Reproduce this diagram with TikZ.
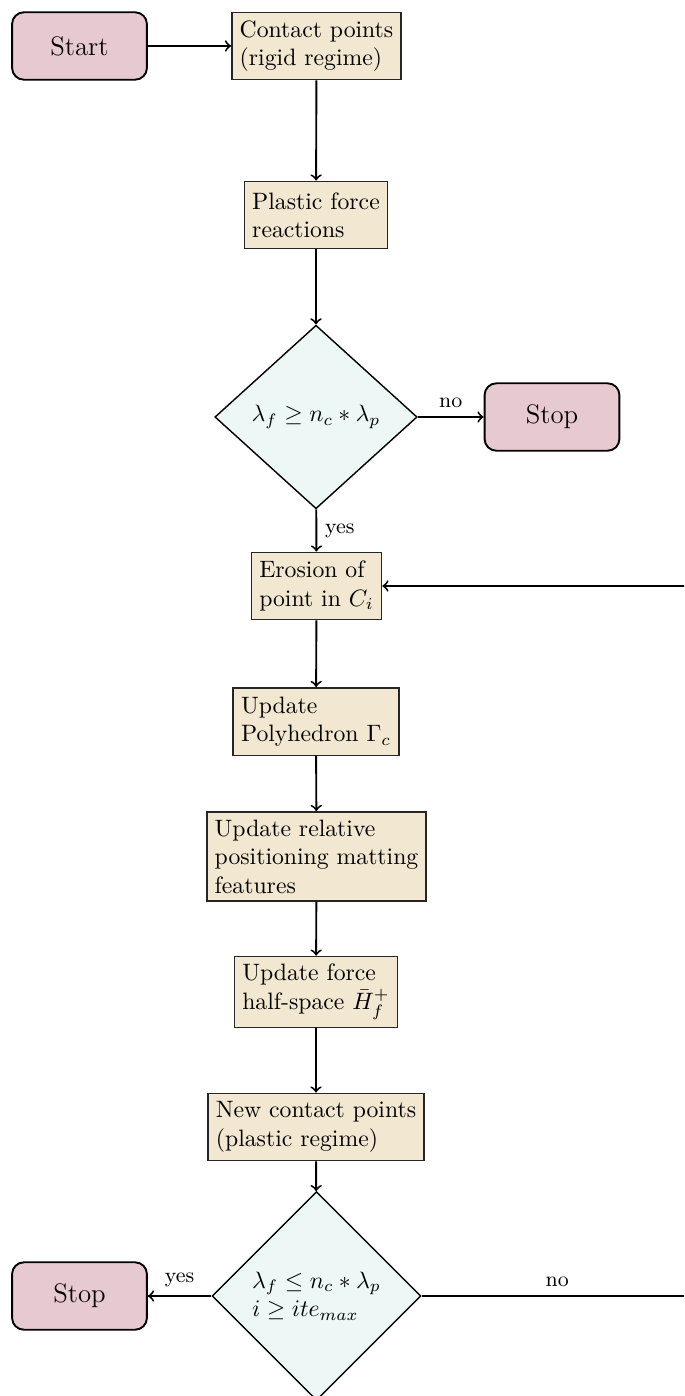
\documentclass[tikz,border=0pt]{standalone}
\usetikzlibrary{shapes.geometric,arrows}
\definecolor{termfill}{RGB}{231,201,209}
\definecolor{procfill}{RGB}{242,231,208}
\definecolor{decfill}{RGB}{237,247,245}
\begin{document}
\begin{tikzpicture}[
  x=0.42194pt, y=-0.42194pt,
  startstop/.style={rectangle, rounded corners=5pt, minimum width=2cm, minimum height=1cm,
    draw=black, thick, fill=termfill, font=\fontsize{11.3}{13.6}\selectfont},
  process/.style={rectangle, minimum height=1cm, align=left,
    draw=black!85, semithick, fill=procfill},
  decision/.style={diamond, minimum width=3cm, minimum height=1cm, align=left,
    draw=black, semithick, fill=decfill},
  arrow/.style={thick, ->},
  lbl/.style={font=\small}
]
\useasboundingbox (0,0) rectangle (684,1396);
\clip (0,0) rectangle (684,1396);

% nodes
\node[startstop] (start) at (79.5,46) {Start};
\node[process] (contact) at (316.5,46) {Contact points\\(rigid regime)};
\node[process] (plastic) at (316,215) {Plastic force\\reactions};
\node[decision] (dec1) at (316,417) {$\lambda_f \geq n_c * \lambda_p$};
\node[startstop] (stop1) at (552,417) {Stop};
\node[process] (erosion) at (316.5,586) {Erosion of\\point in $C_i$};
\node[process] (poly) at (316,721.5) {Update\\Polyhedron $\Gamma_c$};
\node[process] (relpos) at (316.5,856.5) {Update relative\\positioning matting\\features};
\node[process] (force) at (316,992) {Update force\\half-space $\bar{H}_f^+$};
\node[process] (newcontact) at (316,1127) {New contact points\\(plastic regime)};
\node[decision] (dec2) at (316.5,1296) {$\lambda_f \leq n_c * \lambda_p$\\$i \geq ite_{max}$};
\node[startstop] (stop2) at (79.5,1296) {Stop};
\coordinate (loop) at (693,1296);

% connectors
\draw[arrow] (start) -- (contact);
\draw[arrow] (contact) -- (plastic);
\draw[arrow] (plastic) -- (dec1);
\draw[arrow] (dec1) -- node[lbl, above] {no} (stop1);
\draw[arrow] (dec1) -- node[lbl, right] {yes} (erosion);
\draw[arrow] (erosion) -- (poly);
\draw[arrow] (poly) -- (relpos);
\draw[arrow] (relpos) -- (force);
\draw[arrow] (force) -- (newcontact);
\draw[arrow] (newcontact) -- (dec2);
\draw[arrow] (dec2) -- node[lbl, above] {yes} (stop2);
\draw[arrow] (dec2.east) -- node[lbl, above] {no} (loop) |- (erosion.east);
\end{tikzpicture}
\end{document}
